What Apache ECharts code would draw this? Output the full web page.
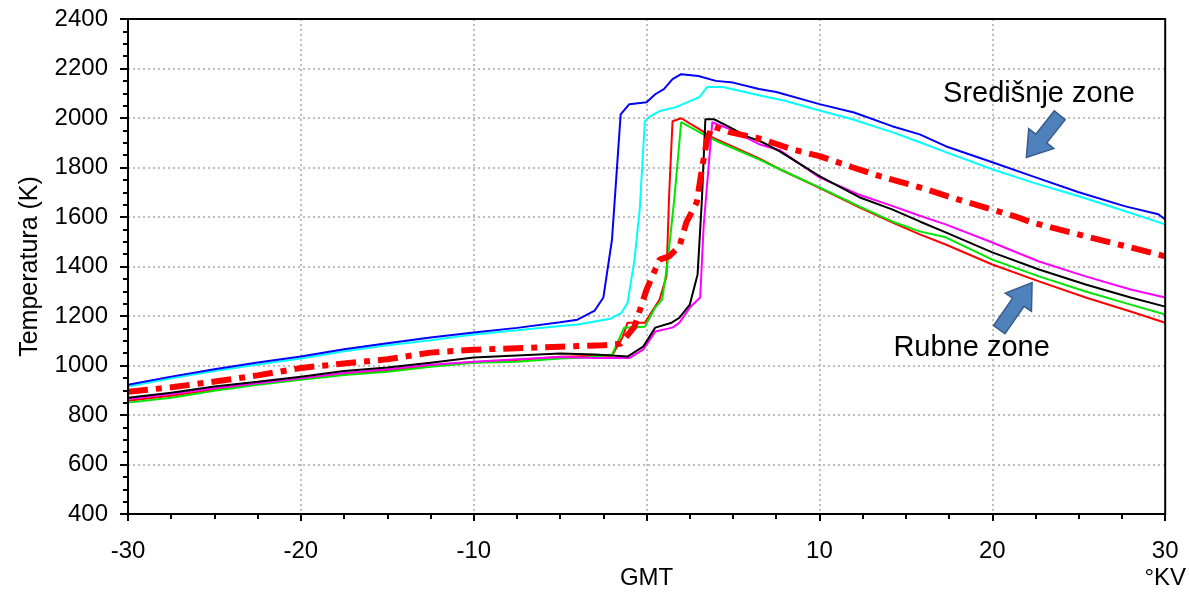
<!DOCTYPE html>
<html>
<head>
<meta charset="utf-8">
<script src="https://cdn.jsdelivr.net/npm/echarts@6/dist/echarts.min.js"></script>
<style>
  html, body { margin: 0; padding: 0; background: #fff; }
  #echarts { width: 1189px; height: 594px; }
</style>
</head>
<body>
<div id="echarts"></div>
<script>
// temperature profiles, [position, T in K]
var blueLine = [[-30,922],[-27.5,955],[-25,985],[-22.5,1012],[-20,1036],[-17.5,1066],[-15,1090],[-12.5,1113],[-10,1133],[-7.5,1152],[-5,1175],[-4,1185],[-3,1222],[-2.5,1275],[-2,1510],[-1.5,2015],[-1,2056],[0,2064],[0.5,2096],[1,2117],[1.5,2157],[2,2177],[3,2170],[4,2150],[5,2143],[6.5,2117],[7.5,2105],[10,2056],[12,2022],[14.2,1967],[15.8,1934],[17.3,1886],[20,1821],[22.3,1765],[25,1700],[27.7,1643],[29.6,1611],[30,1590]];
var cyanLine = [[-30,915],[-27.5,948],[-25,978],[-22.5,1004],[-20,1028],[-17.5,1058],[-15,1082],[-12.5,1102],[-10,1125],[-7.5,1142],[-5,1160],[-4,1166],[-2.1,1189],[-1.45,1213],[-1.1,1254],[-0.7,1428],[-0.4,1630],[-0.1,1987],[0.2,2007],[0.75,2028],[1.7,2044],[2.5,2068],[3.05,2084],[3.5,2125],[4.4,2125],[6.5,2092],[8,2070],[10,2030],[11.9,1995],[14.2,1943],[15.8,1902],[17.3,1862],[20,1793],[22.3,1740],[25,1684],[27.7,1623],[30,1570]];
var avgLine = [[-30,894],[-27.5,912],[-25,935],[-22.5,960],[-20,990],[-17.5,1008],[-15,1025],[-12.5,1052],[-10,1064],[-7.5,1070],[-5,1076],[-2.5,1082],[-1.5,1088],[-0.7,1157],[0,1307],[0.75,1428],[1.3,1441],[1.9,1481],[2.3,1578],[2.9,1659],[3.2,1793],[3.5,1914],[3.8,1967],[4.8,1943],[6.7,1914],[8.4,1874],[10,1846],[11.9,1801],[13.5,1765],[15.8,1720],[18,1671],[21.3,1603],[22.3,1578],[25.4,1522],[28,1477],[30,1441]];
var magentaLine = [[-30,865],[-27.5,885],[-25,908],[-22.5,928],[-20,948],[-17.5,970],[-15,985],[-12.5,1003],[-10,1015],[-7.5,1025],[-5,1034],[-3,1030],[-1,1030],[-0.2,1064],[0.5,1137],[1.5,1153],[1.9,1173],[2.5,1234],[3.1,1275],[3.3,1563],[3.8,1983],[4.8,1955],[6.5,1894],[7.7,1870],[10,1760],[12.3,1690],[14.2,1645],[15.8,1605],[17.3,1570],[20,1497],[22.7,1420],[25.4,1360],[28,1307],[30,1275]];
var blackLine = [[-30,870],[-27.5,890],[-25,915],[-22.5,934],[-20,955],[-17.5,978],[-15,992],[-12.5,1011],[-10,1032],[-7.5,1040],[-5,1048],[-3,1044],[-1.1,1036],[-0.2,1076],[0.5,1153],[1.45,1173],[1.9,1193],[2.5,1246],[2.95,1368],[3.2,1671],[3.4,1995],[3.9,1995],[4.8,1963],[5.8,1926],[6.7,1902],[7.7,1865],[10,1765],[12.3,1680],[14.2,1631],[15.8,1582],[17.3,1538],[20,1457],[22.7,1388],[25.4,1327],[28,1275],[30,1238]];
var greenLine = [[-30,850],[-27.5,870],[-25,898],[-22.5,922],[-20,942],[-17.5,962],[-15,975],[-12.5,995],[-10,1011],[-7.5,1015],[-5,1028],[-3.5,1032],[-2,1044],[-1.3,1153],[-0.1,1157],[0.5,1234],[0.9,1267],[1.2,1408],[1.6,1671],[2,1983],[3.5,1926],[4.2,1902],[6.5,1833],[7.7,1793],[10,1720],[12.3,1643],[14.2,1582],[15.8,1542],[17.3,1518],[20,1428],[22.7,1360],[25.4,1299],[28,1246],[30,1206]];
var redLine = [[-30,858],[-27.5,878],[-25,903],[-22.5,925],[-20,945],[-17.5,966],[-15,980],[-12.5,1000],[-10,1013],[-7.5,1022],[-5,1035],[-2,1040],[-1.4,1113],[-1.1,1173],[-0.1,1173],[0.75,1267],[1.15,1360],[1.3,1683],[1.5,1987],[2,1999],[3.05,1955],[3.8,1922],[6.5,1837],[7.7,1793],[10,1718],[12.3,1639],[14.2,1578],[15.8,1530],[17.3,1489],[20,1408],[22.7,1340],[25.4,1275],[28,1218],[30,1173]];

// annotations, in data coordinates
var labelCentral = ['Središnje zone', 22.7, 2096];
var labelEdge = ['Rubne zone', 18.8, 1072];
var arrowCentral = [[23.9, 2011], [21.97, 1841]];  // tail, tip
var arrowEdge = [[20.4, 1145], [22.3, 1335]];

var font = 'Liberation Sans, Arial, sans-serif';

var myChart = echarts.init(document.getElementById('echarts'));

function thin(name, color, data) {
    return {
        name: name, type: 'line', data: data, symbol: 'none',
        lineStyle: { color: color, width: 2 }
    };
}

var gridLine = { show: true, showMinLine: false, showMaxLine: false, lineStyle: { color: '#bdbdbd', width: 2, type: [2, 3] } };

option = {
    animation: false,
    grid: { left: 128, right: 23, top: 19, bottom: 80 },
    xAxis: {
        type: 'value', min: -30, max: 30, interval: 10,
        axisLine: { show: true, onZero: false, lineStyle: { color: '#000', width: 2 } },
        axisTick: { show: true, inside: false, length: 7, lineStyle: { color: '#000', width: 2 } },
        minorTick: { show: true, splitNumber: 4, length: 5, lineStyle: { color: '#000', width: 2 } },
        splitLine: gridLine,
        axisLabel: {
            color: '#000', fontSize: 24, fontFamily: font, margin: 24, lineHeight: 27,
            formatter: function (v) {
                if (v === 0) return '\nGMT';
                if (v === 30) return '30\n°KV';
                return String(v);
            },
            verticalAlign: 'top'
        }
    },
    yAxis: {
        type: 'value', min: 400, max: 2400, interval: 200,
        name: 'Temperatura (K)', nameLocation: 'middle', nameGap: 85,
        nameTextStyle: { color: '#000', fontSize: 25, fontFamily: font },
        axisLine: { show: true, onZero: false, lineStyle: { color: '#000', width: 2 } },
        axisTick: { show: true, length: 8, lineStyle: { color: '#000', width: 2 } },
        minorTick: { show: true, splitNumber: 4, length: 5, lineStyle: { color: '#000', width: 2 } },
        splitLine: gridLine,
        axisLabel: {
            color: '#000', fontSize: 24, fontFamily: font, margin: 20,
            formatter: function (v) { return String(v); }
        }
    },
    series: [
        thin('red', '#ff0000', redLine),
        thin('green', '#00e600', greenLine),
        thin('magenta', '#ff00ff', magentaLine),
        thin('black', '#000000', blackLine),
        thin('cyan', '#00ffff', cyanLine),
        thin('blue', '#0000ff', blueLine),
        {
            name: 'avg', type: 'line', data: avgLine, symbol: 'none',
            lineStyle: { color: '#ff0000', width: 6, type: [20, 8, 6, 8] }
        }
    ]
};
myChart.setOption(option);

// block arrow from tail to tip (pixel space)
function arrowPoints(tail, tip) {
    var a = myChart.convertToPixel({ gridIndex: 0 }, tail);
    var b = myChart.convertToPixel({ gridIndex: 0 }, tip);
    var dx = b[0] - a[0], dy = b[1] - a[1];
    var len = Math.sqrt(dx * dx + dy * dy);
    var ux = dx / len, uy = dy / len, nx = -uy, ny = ux;
    var sw = 7, hw = 16, hl = 24;
    var local = [[0, -sw], [len - hl, -sw], [len - hl, -hw], [len, 0], [len - hl, hw], [len - hl, sw], [0, sw]];
    return local.map(function (p) {
        return [a[0] + ux * p[0] + nx * p[1], a[1] + uy * p[0] + ny * p[1]];
    });
}

function textAt(lbl) {
    var p = myChart.convertToPixel({ gridIndex: 0 }, [lbl[1], lbl[2]]);
    return {
        type: 'text', x: p[0], y: p[1],
        style: { text: lbl[0], fill: '#000', font: '29px ' + font, textAlign: 'center', textVerticalAlign: 'middle' }
    };
}

var arrowStyle = { fill: '#4f81bd', stroke: '#385d8a', lineWidth: 1.5 };

// solid frame round the plot area
var tl = myChart.convertToPixel({ gridIndex: 0 }, [-30, 2400]);
var br = myChart.convertToPixel({ gridIndex: 0 }, [30, 400]);

myChart.setOption({
    graphic: [
        {
            type: 'rect', z: 100, silent: true,
            shape: { x: tl[0], y: tl[1], width: br[0] - tl[0], height: br[1] - tl[1] },
            style: { fill: 'none', stroke: '#000', lineWidth: 2 }
        },
        textAt(labelCentral),
        textAt(labelEdge),
        { type: 'polygon', shape: { points: arrowPoints(arrowCentral[0], arrowCentral[1]) }, style: arrowStyle },
        { type: 'polygon', shape: { points: arrowPoints(arrowEdge[0], arrowEdge[1]) }, style: arrowStyle }
    ]
});
</script>
</body>
</html>
